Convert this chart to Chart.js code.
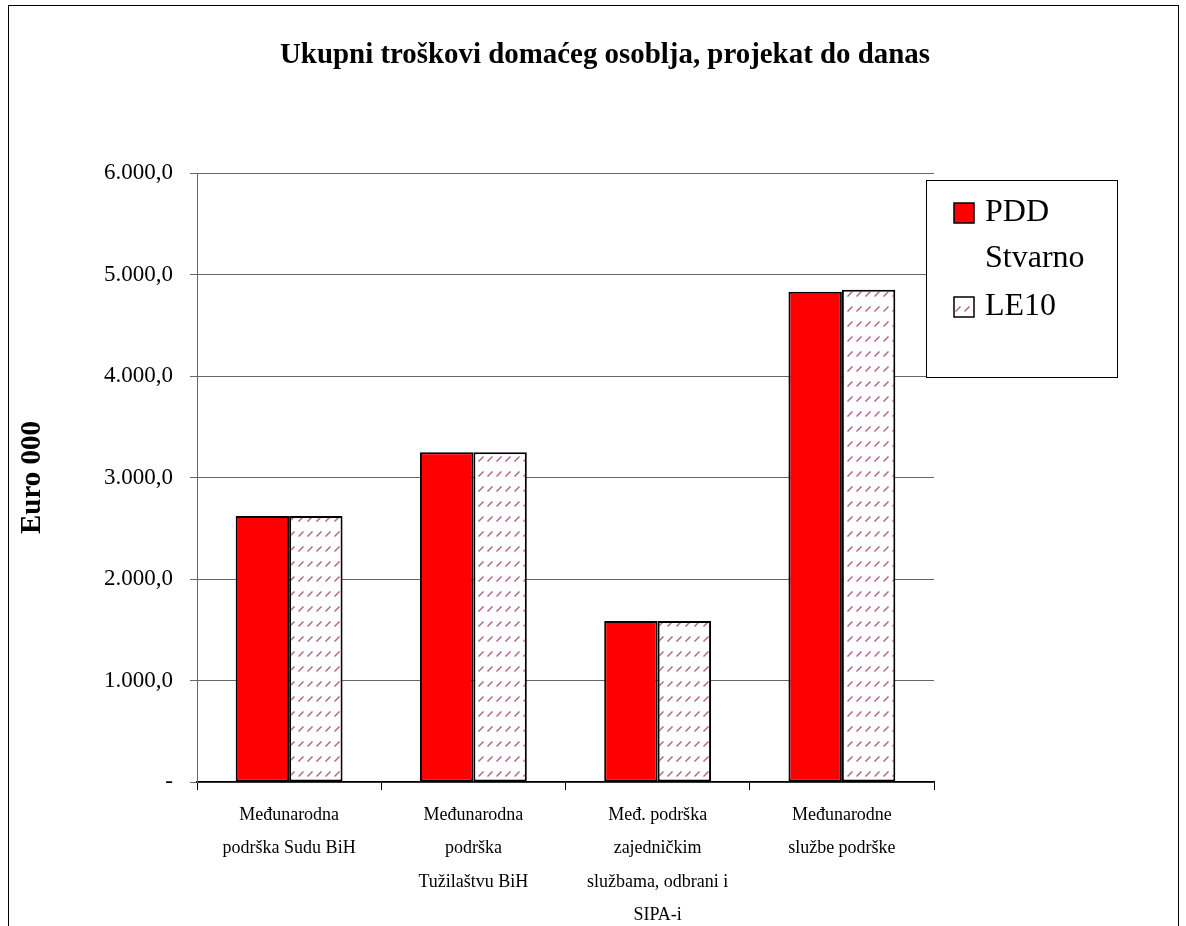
<!DOCTYPE html>
<html>
<head>
<meta charset="utf-8">
<script src="https://cdn.jsdelivr.net/npm/chart.js@4/dist/chart.umd.min.js"></script>
<style>
  body { margin: 0; background: #fff; }
</style>
</head>
<body>
<canvas id="grafikon" width="1186" height="926"></canvas>
<script>
// podaci procijenjeni sa slike
const kategorije = [
    ['Međunarodna', 'podrška Sudu BiH'],
    ['Međunarodna', 'podrška', 'Tužilaštvu BiH'],
    ['Međ. podrška', 'zajedničkim', 'službama, odbrani i', 'SIPA-i'],
    ['Međunarodne', 'službe podrške']
];
const pddStvarno = [2620, 3250, 1585, 4830];
const le10 = [2620, 3250, 1585, 4850];
const nazivi = ['PDD Stvarno', 'LE10'];
const legendaRedovi = [['PDD', 'Stvarno'], ['LE10']];
const naslov = 'Ukupni troškovi domaćeg osoblja, projekat do danas';

const serif = "'Liberation Serif', 'Times New Roman', serif";

function napraviSrafuru() {
    const p = document.createElement('canvas');
    p.width = 9;
    p.height = 15;
    const c = p.getContext('2d');
    c.fillStyle = '#fff';
    c.fillRect(0, 0, 9, 15);
    c.strokeStyle = '#b0628c';
    c.lineWidth = 1.5;
    c.beginPath();
    c.moveTo(1.5, 11.5);
    c.lineTo(6.5, 6.5);
    c.stroke();
    return c.createPattern(p, 'repeat');
}
const srafura = napraviSrafuru();

function formatBroja(v) {
    if (v === 0) return '-';
    const cijeli = Math.round(v).toString().replace(/\B(?=(\d{3})+(?!\d))/g, '.');
    return cijeli + ',0';
}

// okvir oko cijelog grafikona + naslov
const okvir = {
    id: 'okvir',
    beforeDraw(chart) {
        const ctx = chart.ctx;
        ctx.save();
        ctx.fillStyle = '#fff';
        ctx.fillRect(0, 0, chart.width, chart.height);
        ctx.strokeStyle = '#000';
        ctx.lineWidth = 1;
        ctx.strokeRect(8.5, 5.5, 1170, 960);
        ctx.fillStyle = '#000';
        ctx.font = 'bold 30px ' + serif;
        ctx.textAlign = 'center';
        ctx.textBaseline = 'middle';
        ctx.fillText(naslov, 605, 55, 650);
        ctx.restore();
    }
};

// legenda kao u Excelu
const legenda = {
    id: 'legenda',
    afterDraw(chart) {
        const ctx = chart.ctx;
        const boje = [chart.data.datasets[0].backgroundColor, chart.data.datasets[1].backgroundColor];
        ctx.save();
        ctx.fillStyle = '#fff';
        ctx.fillRect(926, 180, 191, 197);
        ctx.strokeStyle = '#000';
        ctx.lineWidth = 1;
        ctx.strokeRect(926.5, 180.5, 191, 197);
        ctx.font = '32px ' + serif;
        ctx.textBaseline = 'middle';
        ctx.textAlign = 'left';
        let y = 213;
        legendaRedovi.forEach((redovi, i) => {
            ctx.fillStyle = boje[i];
            ctx.fillRect(954, y - 10, 20, 20);
            ctx.strokeStyle = '#000';
            ctx.lineWidth = 1.5;
            ctx.strokeRect(954, y - 10, 20, 20);
            ctx.fillStyle = '#000';
            redovi.forEach((t, j) => {
                ctx.fillText(t, 985, y + j * 46);
            });
            y += redovi.length * 46 + 2;
        });
        ctx.restore();
    }
};

const config = {
    type: 'bar',
    data: {
        labels: kategorije,
        datasets: [{
            label: nazivi[0],
            data: pddStvarno,
            backgroundColor: '#ff0000',
            borderColor: '#000',
            borderWidth: 2,
            borderSkipped: false,
            categoryPercentage: 0.58,
            barPercentage: 1
        }, {
            label: nazivi[1],
            data: le10,
            backgroundColor: srafura,
            borderColor: '#000',
            borderWidth: 2,
            borderSkipped: false,
            categoryPercentage: 0.58,
            barPercentage: 1
        }]
    },
    options: {
        responsive: false,
        animation: false,
        layout: {
            padding: { left: 15, right: 252, top: 173, bottom: 0 }
        },
        plugins: {
            legend: { display: false },
            tooltip: { enabled: false },
            title: { display: false }
        },
        scales: {
            x: {
                afterFit(s) { s.height = 144; },
                grid: {
                    display: true,
                    drawOnChartArea: false,
                    drawTicks: true,
                    tickLength: 8,
                    color: '#000',
                    offset: true
                },
                border: { color: '#000', width: 1.5 },
                ticks: {
                    color: '#000',
                    maxRotation: 0,
                    autoSkip: false,
                    padding: 9,
                    font: { family: serif, size: 18, lineHeight: 1.84 }
                }
            },
            y: {
                min: 0,
                max: 6000,
                afterFit(s) { s.width = 182; },
                grid: {
                    color: '#666',
                    lineWidth: 1,
                    tickLength: 7
                },
                border: { color: '#666', width: 1 },
                ticks: {
                    stepSize: 1000,
                    color: '#000',
                    padding: 17,
                    font: { family: serif, size: 23 },
                    callback: v => formatBroja(v)
                },
                title: {
                    display: true,
                    text: 'Euro 000',
                    color: '#000',
                    padding: 0,
                    font: { family: serif, size: 29, weight: 'bold', lineHeight: 1.2 }
                }
            }
        }
    },
    plugins: [okvir, legenda]
};

const chart = new Chart(document.getElementById('grafikon'), config);
</script>
</body>
</html>
